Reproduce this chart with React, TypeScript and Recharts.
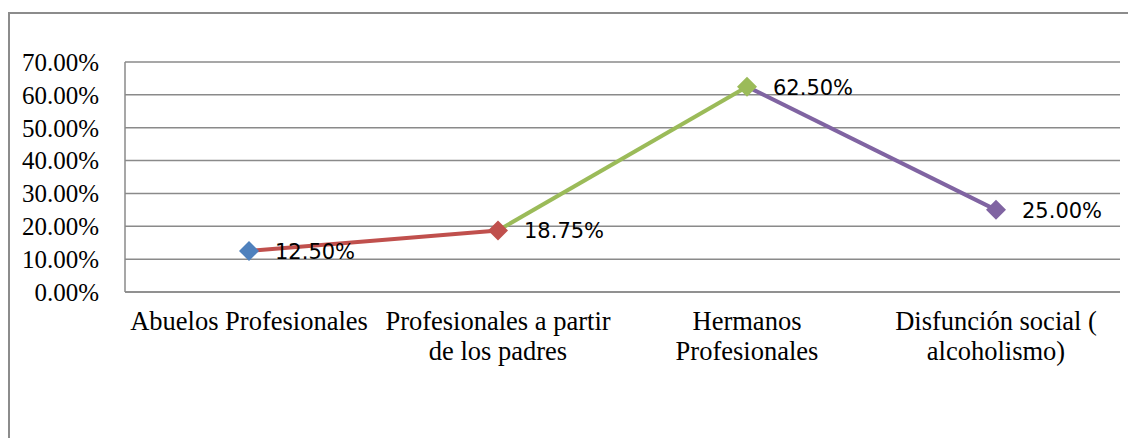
import React from 'react';
import { LineChart, Line, XAxis, YAxis, CartesianGrid, LabelList } from 'recharts';

const categories = [
    'Abuelos Profesionales',
    'Profesionales a partir\nde los padres',
    'Hermanos\nProfesionales',
    'Disfunción social (\nalcoholismo)',
];
const values = [12.5, 18.75, 62.5, 25];
const pointColors = ['#4F81BD', '#C0504D', '#9BBB59', '#8064A2'];
const yTicks = [0, 10, 20, 30, 40, 50, 60, 70];

const SERIF = '"Times New Roman", "Liberation Serif", "DejaVu Serif", serif';

// each segment k joins point k-1 and point k, coloured like point k
const segments = [1, 2, 3];

const data = categories.map((name, i) => {
    const row: Record<string, any> = { name, value: values[i] };
    segments.forEach((k) => {
        row[`seg${k}`] = i === k - 1 || i === k ? values[i] : null;
    });
    return row;
});

const fmt = (v: number) => `${v.toFixed(2)}%`;

const CategoryTick = (props: any) => {
    const { x, y, payload } = props;
    const lines = String(payload.value).split('\n');
    return (
        <text x={x} y={y} textAnchor="middle" style={{ fontFamily: SERIF }} fontSize={26.5} fill="#000">
            {lines.map((l, i) => (
                <tspan key={i} x={x} dy={i === 0 ? 38 : 30}>
                    {l}
                </tspan>
            ))}
        </text>
    );
};

const Diamond = (props: any) => {
    const { cx, cy, index } = props;
    if (cx == null || cy == null) return <g key={`d-${index}`} />;
    const r = 10;
    return (
        <polygon
            key={`d-${index}`}
            points={`${cx},${cy - r} ${cx + r},${cy} ${cx},${cy + r} ${cx - r},${cy}`}
            fill={pointColors[index % pointColors.length]}
        />
    );
};

const ValueLabel = (props: any) => {
    const { x, y, value } = props;
    return (
        <text x={x + 26} y={y + 8} textAnchor="start" style={{ fontFamily: '"DejaVu Sans", sans-serif' }} fontSize={21} fill="#000">
            {fmt(value)}
        </text>
    );
};

const App: React.FC = () => {
    return (
        <div style={{ position: 'relative', width: 1128, height: 430, overflow: 'hidden', background: '#fff' }}>
            <div
                style={{
                    position: 'absolute',
                    left: 0,
                    top: 4,
                    width: 1200,
                    height: 500,
                    borderTop: '2px solid #8c8c8c',
                    borderLeft: '2px solid #8c8c8c',
                }}
            />
            <div style={{ position: 'absolute', left: 0, top: 0 }}>
                <LineChart width={1128} height={430} data={data} margin={{ top: 54, right: 16, left: 0, bottom: 0 }}>
                    <CartesianGrid vertical={false} stroke="#8a8a8a" strokeWidth={1.5} />
                    <XAxis
                        dataKey="name"
                        height={146}
                        padding={{ left: 124, right: 124 }}
                        tickLine={false}
                        tickSize={0}
                        tickMargin={0}
                        interval={0}
                        axisLine={{ stroke: '#8a8a8a', strokeWidth: 1.5 }}
                        tick={<CategoryTick />}
                    />
                    <YAxis
                        width={117}
                        domain={[0, 70]}
                        ticks={yTicks}
                        interval={0}
                        tickFormatter={fmt}
                        tickLine={false}
                        tickSize={0}
                        tickMargin={26}
                        axisLine={{ stroke: '#8a8a8a', strokeWidth: 1.5 }}
                        tick={{ style: { fontFamily: SERIF }, fontSize: 25, fill: '#000' }}
                    />
                    {segments.map((k) => (
                        <Line
                            key={k}
                            type="linear"
                            dataKey={`seg${k}`}
                            stroke={pointColors[k]}
                            strokeWidth={4}
                            dot={false}
                            activeDot={false}
                            connectNulls={false}
                            isAnimationActive={false}
                        />
                    ))}
                    <Line
                        type="linear"
                        dataKey="value"
                        stroke="none"
                        strokeWidth={0}
                        dot={Diamond}
                        activeDot={false}
                        isAnimationActive={false}
                    >
                        <LabelList dataKey="value" content={<ValueLabel />} />
                    </Line>
                </LineChart>
            </div>
        </div>
    );
};

export default App;
